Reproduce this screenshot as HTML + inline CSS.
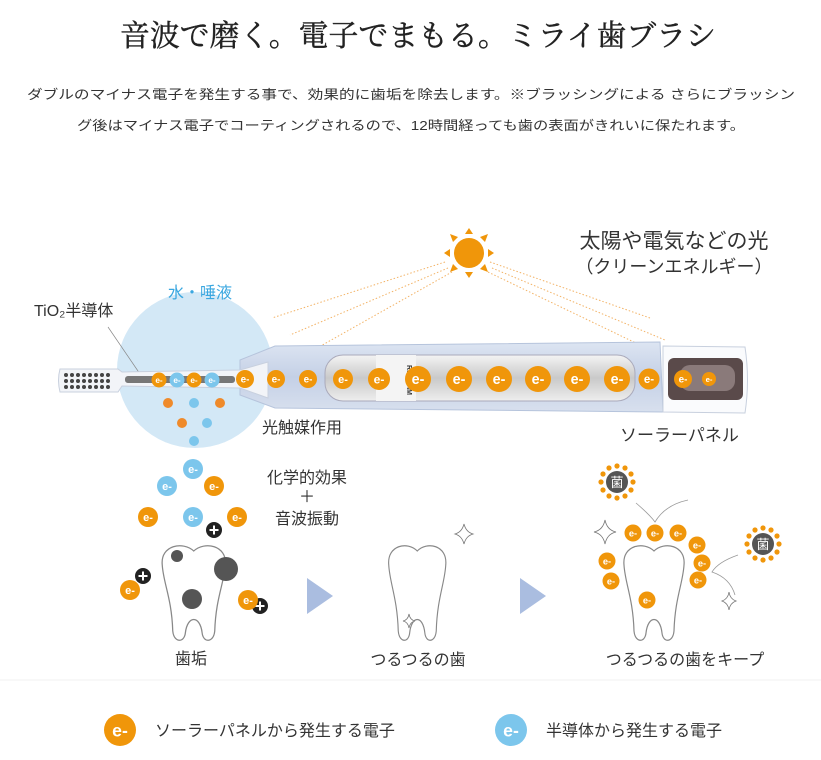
<!DOCTYPE html>
<html><head><meta charset="utf-8"><style>
html,body{margin:0;padding:0;background:#fff;}
svg{display:block;}
text{font-family:"Liberation Sans","Noto Sans CJK JP",sans-serif;}
</style></head><body>
<svg width="821" height="760" viewBox="0 0 821 760" xmlns="http://www.w3.org/2000/svg">
<defs>
<g id="eo"><circle r="10" fill="#f0960a"/><text x="0" y="4" font-size="11" font-weight="bold" fill="#fff" text-anchor="middle">e-</text></g>
<g id="eb"><circle r="10" fill="#7cc6ec"/><text x="0" y="4" font-size="11" font-weight="bold" fill="#fff" text-anchor="middle">e-</text></g>
<g id="pl"><circle r="8" fill="#222"/><path d="M-4.5 0H4.5M0 -4.5V4.5" stroke="#fff" stroke-width="2"/></g>
<path id="tooth" d="M5,22 C3,2 25,-2 35,8 C45,-2 67,2 65,22 C64,40 56,55 55,88 C54,100 44,100 43,90 C41,72 29,72 27,90 C26,100 16,100 15,88 C14,55 6,40 5,22 Z" fill="#fff" stroke="#888" stroke-width="1.2"/>
<g id="germ"><circle r="11" fill="#555"/><text y="5" font-size="13" fill="#fff" text-anchor="middle">菌</text>
<g fill="#f0960a"><circle cx="0" cy="-16" r="2.6"/><circle cx="8" cy="-14" r="2.6"/><circle cx="14" cy="-8" r="2.6"/><circle cx="16" cy="0" r="2.6"/><circle cx="14" cy="8" r="2.6"/><circle cx="8" cy="14" r="2.6"/><circle cx="0" cy="16" r="2.6"/><circle cx="-8" cy="14" r="2.6"/><circle cx="-14" cy="8" r="2.6"/><circle cx="-16" cy="0" r="2.6"/><circle cx="-14" cy="-8" r="2.6"/><circle cx="-8" cy="-14" r="2.6"/></g></g>
<linearGradient id="silver" x1="0" y1="0" x2="0" y2="1"><stop offset="0" stop-color="#f4f4f4"/><stop offset="0.5" stop-color="#c9c9c9"/><stop offset="1" stop-color="#eee"/></linearGradient>
<linearGradient id="bodyg" x1="0" y1="0" x2="0" y2="1"><stop offset="0" stop-color="#dde5f2"/><stop offset="0.5" stop-color="#c4d0e6"/><stop offset="1" stop-color="#d8e0ee"/></linearGradient>
</defs>

<text x="418" y="46" font-size="30" fill="#222" stroke="#222" stroke-width="0.4" text-anchor="middle" textLength="596" lengthAdjust="spacingAndGlyphs" style="font-family:'Liberation Serif','Noto Serif CJK SC',serif">音波で磨く。電子でまもる。ミライ歯ブラシ</text>
<text x="411" y="99" font-size="13" fill="#333" text-anchor="middle" textLength="768" lengthAdjust="spacingAndGlyphs">ダブルのマイナス電子を発生する事で、効果的に歯垢を除去します。※ブラッシングによる さらにブラッシン</text>
<text x="411" y="130" font-size="13" fill="#333" text-anchor="middle" textLength="668" lengthAdjust="spacingAndGlyphs">グ後はマイナス電子でコーティングされるので、12時間経っても歯の表面がきれいに保たれます。</text>

<g stroke="#f0a040" stroke-width="1" stroke-dasharray="1.5 2" opacity="0.8">
<line x1="445" y1="262" x2="272" y2="318"/><line x1="448" y1="268" x2="290" y2="335"/><line x1="452" y1="272" x2="310" y2="352"/>
<line x1="490" y1="262" x2="650" y2="318"/><line x1="492" y1="268" x2="665" y2="340"/><line x1="488" y1="272" x2="640" y2="345"/>
</g>
<g transform="translate(469,253)">
<circle r="15" fill="#f0960a"/>
<g fill="#f0960a">
<polygon points="-4,-19 4,-19 0,-25"/><polygon points="-4,19 4,19 0,25"/><polygon points="-19,-4 -19,4 -25,0"/><polygon points="19,-4 19,4 25,0"/>
<polygon points="11,-16 16,-11 19,-19"/><polygon points="-11,-16 -16,-11 -19,-19"/><polygon points="11,16 16,11 19,19"/><polygon points="-11,16 -16,11 -19,19"/>
</g></g>
<text x="674" y="248" font-size="21" fill="#333" text-anchor="middle">太陽や電気などの光</text>
<text x="674" y="273" font-size="18" fill="#333" text-anchor="middle">（クリーンエネルギー）</text>

<circle cx="195" cy="370" r="78" fill="#d3e8f6"/>
<text x="200" y="298" font-size="16" fill="#3aa7e0" text-anchor="middle">水・唾液</text>
<text x="34" y="316" font-size="16" fill="#333">TiO₂半導体</text>
<line x1="108" y1="327" x2="140" y2="374" stroke="#888" stroke-width="0.7"/>

<path d="M240,360 L275,346 L660,342 L663,412 L275,408 L240,395 Z" fill="url(#bodyg)" stroke="#b6c4dc"/>
<path d="M60,369 Q57,380 60,392 L118,392 L122,386 L240,388 L268,398 L268,362 L240,370 L122,372 L118,369 Z" fill="#f2f4f8" stroke="#c8d0de"/>
<rect x="125" y="376" width="110" height="7" rx="3" fill="#777"/>
<g fill="#444">
<circle cx="66" cy="375" r="2"/><circle cx="72" cy="375" r="2"/><circle cx="78" cy="375" r="2"/><circle cx="84" cy="375" r="2"/><circle cx="90" cy="375" r="2"/><circle cx="96" cy="375" r="2"/><circle cx="102" cy="375" r="2"/><circle cx="108" cy="375" r="2"/>
<circle cx="66" cy="381" r="2"/><circle cx="72" cy="381" r="2"/><circle cx="78" cy="381" r="2"/><circle cx="84" cy="381" r="2"/><circle cx="90" cy="381" r="2"/><circle cx="96" cy="381" r="2"/><circle cx="102" cy="381" r="2"/><circle cx="108" cy="381" r="2"/>
<circle cx="66" cy="387" r="2"/><circle cx="72" cy="387" r="2"/><circle cx="78" cy="387" r="2"/><circle cx="84" cy="387" r="2"/><circle cx="90" cy="387" r="2"/><circle cx="96" cy="387" r="2"/><circle cx="102" cy="387" r="2"/><circle cx="108" cy="387" r="2"/>
</g>
<rect x="325" y="355" width="310" height="46" rx="18" fill="url(#silver)" stroke="#aab"/>
<rect x="376" y="355" width="40" height="46" fill="#f4f4f4"/>
<text x="407" y="380" font-size="7" font-weight="bold" fill="#333" transform="rotate(90 407 380)" text-anchor="middle">RHYTHM</text>
<path d="M663,346 L745,347 Q750,380 745,413 L663,412 Z" fill="#fafbfd" stroke="#c8d0de"/>
<rect x="668" y="358" width="75" height="42" rx="6" fill="#5a4a4a"/>
<rect x="680" y="365" width="55" height="26" rx="10" fill="#8a7a7a"/>

<use href="#eo" transform="translate(159,380) scale(0.75)"/>
<use href="#eb" transform="translate(177,380) scale(0.75)"/>
<use href="#eo" transform="translate(194,380) scale(0.75)"/>
<use href="#eb" transform="translate(212,380) scale(0.75)"/>
<use href="#eo" transform="translate(245,379) scale(0.9)"/>
<use href="#eo" transform="translate(276,379) scale(0.9)"/>
<use href="#eo" transform="translate(308,379) scale(0.9)"/>
<use href="#eo" transform="translate(343,379) scale(1.0)"/>
<use href="#eo" transform="translate(379,379) scale(1.1)"/>
<use href="#eo" transform="translate(418,379) scale(1.3)"/>
<use href="#eo" transform="translate(459,379) scale(1.3)"/>
<use href="#eo" transform="translate(499,379) scale(1.3)"/>
<use href="#eo" transform="translate(538,379) scale(1.3)"/>
<use href="#eo" transform="translate(577,379) scale(1.3)"/>
<use href="#eo" transform="translate(617,379) scale(1.3)"/>
<use href="#eo" transform="translate(649,379) scale(1.05)"/>
<use href="#eo" transform="translate(683,379) scale(0.9)"/>
<use href="#eo" transform="translate(709,379) scale(0.7)"/>

<g><circle cx="168" cy="403" r="5" fill="#ef8a2a"/><circle cx="194" cy="403" r="5" fill="#7cc6ec"/><circle cx="220" cy="403" r="5" fill="#ef8a2a"/>
<circle cx="182" cy="423" r="5" fill="#ef8a2a"/><circle cx="207" cy="423" r="5" fill="#7cc6ec"/><circle cx="194" cy="441" r="5" fill="#7cc6ec"/></g>
<text x="262" y="433" font-size="16" fill="#333">光触媒作用</text>
<text x="620" y="441" font-size="17" fill="#333">ソーラーパネル</text>

<use href="#eb" transform="translate(193,469)"/>
<use href="#eb" transform="translate(167,486)"/>
<use href="#eo" transform="translate(214,486)"/>
<use href="#eo" transform="translate(148,517)"/>
<use href="#eb" transform="translate(193,517)"/>
<use href="#eo" transform="translate(237,517)"/>
<use href="#pl" transform="translate(214,530)"/>
<text x="307" y="483" font-size="16" fill="#333" text-anchor="middle">化学的効果</text>
<text x="307" y="502" font-size="16" fill="#333" text-anchor="middle">＋</text>
<text x="307" y="524" font-size="16" fill="#333" text-anchor="middle">音波振動</text>

<use href="#tooth" transform="translate(157,543) scale(1.05,1.0)"/>
<circle cx="177" cy="556" r="6" fill="#555"/><circle cx="226" cy="569" r="12" fill="#555"/><circle cx="192" cy="599" r="10" fill="#555"/>
<use href="#pl" transform="translate(143,576)"/>
<use href="#eo" transform="translate(130,590)"/>
<use href="#pl" transform="translate(260,606)"/>
<use href="#eo" transform="translate(248,600)"/>
<text x="191" y="664" font-size="16" fill="#333" text-anchor="middle">歯垢</text>

<polygon points="307,578 333,596 307,614" fill="#aabde0"/>
<polygon points="520,578 546,596 520,614" fill="#aabde0"/>

<use href="#tooth" transform="translate(384,543) scale(0.95,1.0)"/>
<path d="M464,524 Q466,532 473,534 Q466,536 464,544 Q462,536 455,534 Q462,532 464,524Z" fill="#fff" stroke="#777" stroke-width="0.8"/>
<path d="M409,614 Q410,620 415,621 Q410,622 409,628 Q408,622 403,621 Q408,620 409,614Z" fill="#fff" stroke="#777" stroke-width="0.8"/>
<text x="418" y="665" font-size="16" fill="#333" text-anchor="middle">つるつるの歯</text>

<use href="#tooth" transform="translate(619,543) scale(1.0,1.0)"/>
<path d="M605,520 Q607,530 616,532 Q607,534 605,544 Q603,534 594,532 Q603,530 605,520Z" fill="#fff" stroke="#777" stroke-width="0.8"/>
<path d="M729,592 Q730,599 736,601 Q730,603 729,610 Q728,603 722,601 Q728,599 729,592Z" fill="#fff" stroke="#777" stroke-width="0.8"/>
<path d="M636,503 Q650,515 655,522 Q665,505 688,500" fill="none" stroke="#999" stroke-width="0.8"/>
<path d="M738,555 Q718,562 712,572 Q730,578 735,595" fill="none" stroke="#999" stroke-width="0.8"/>
<use href="#germ" transform="translate(617,482)"/>
<use href="#germ" transform="translate(763,544)"/>
<use href="#eo" transform="translate(633,533) scale(0.85)"/>
<use href="#eo" transform="translate(655,533) scale(0.85)"/>
<use href="#eo" transform="translate(678,533) scale(0.85)"/>
<use href="#eo" transform="translate(697,545) scale(0.85)"/>
<use href="#eo" transform="translate(702,563) scale(0.85)"/>
<use href="#eo" transform="translate(698,580) scale(0.85)"/>
<use href="#eo" transform="translate(607,561) scale(0.85)"/>
<use href="#eo" transform="translate(611,581) scale(0.85)"/>
<use href="#eo" transform="translate(647,600) scale(0.85)"/>
<text x="685" y="665" font-size="16" fill="#333" text-anchor="middle">つるつるの歯をキープ</text>

<line x1="0" y1="680" x2="821" y2="680" stroke="#f2f2f2"/>
<use href="#eo" transform="translate(120,730) scale(1.6)"/>
<text x="155" y="736" font-size="16" fill="#333">ソーラーパネルから発生する電子</text>
<use href="#eb" transform="translate(511,730) scale(1.6)"/>
<text x="546" y="736" font-size="16" fill="#333">半導体から発生する電子</text>
</svg>
</body></html>
